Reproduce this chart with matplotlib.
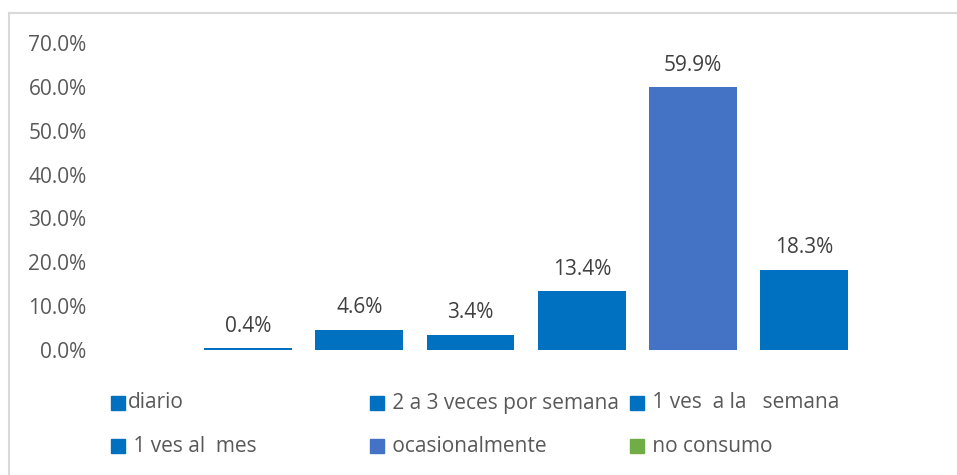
import matplotlib.pyplot as plt
import matplotlib.ticker as ticker
from matplotlib.patches import Rectangle
from matplotlib.lines import Line2D
import numpy as np

# Data
categories = ['', 'diario', '2 a 3 veces por semana', '1 ves  a la   semana',
              ' 1 ves al  mes', 'ocasionalmente', 'no consumo']
values = [np.nan, 0.4, 4.6, 3.4, 13.4, 59.9, 18.3]
bar_colors = ['#0070C0', '#0070C0', '#0070C0', '#0070C0', '#0070C0', '#4472C4', '#0070C0']
legend_labels = ['diario', ' 2 a 3 veces por semana', ' 1 ves  a la   semana',
                 ' 1 ves al  mes', ' ocasionalmente', ' no consumo']
legend_colors = ['#0070C0', '#0070C0', '#0070C0', '#0070C0', '#4472C4', '#70AD47']
yticks = [0, 10, 20, 30, 40, 50, 60, 70]

plt.rcParams['font.family'] = ['Open Sans', 'DejaVu Sans']

W, H = 957, 475
fig = plt.figure(figsize=(W / 100, H / 100), dpi=100, facecolor='white')

def fx(px):
    return px / W

def fy(py):
    return 1 - py / H

ax = fig.add_axes([fx(81), fy(350), fx(860) - fx(81), fy(43) - fy(350)])
x = np.arange(len(categories))
ax.bar(x, values, width=0.79, color=bar_colors, zorder=3)
ax.set_xlim(-0.5, len(categories) - 0.5)
ax.set_ylim(0, 70)
ax.set_yticks(yticks)
ax.yaxis.set_major_formatter(ticker.FuncFormatter(lambda v, p: f'{v:.1f}%'))
ax.set_xticks([])
ax.tick_params(axis='y', length=0, pad=-4, labelsize=15, labelcolor='#595959')
for s in ax.spines.values():
    s.set_visible(False)

for xi, v in zip(x, values):
    if np.isnan(v):
        continue
    ax.annotate(f'{v:.1f}%', xy=(xi, v), xytext=(0, 12), textcoords='offset points',
                ha='center', va='baseline', fontsize=15, color='#404040')

# chart border (left and top only visible)
fig.add_artist(Line2D([fx(9), fx(9)], [fy(13), 0], color='#D9D9D9', lw=1.5))
fig.add_artist(Line2D([fx(9), 1], [fy(13), fy(13)], color='#D9D9D9', lw=1.5))

# legend, 3 columns x 2 rows
col_x = [111, 370, 630]
row_y = [403, 446]
for i, (lab, col) in enumerate(zip(legend_labels, legend_colors)):
    mx = col_x[i % 3]
    my = row_y[i // 3]
    fig.add_artist(Rectangle((fx(mx), fy(my + 7)), fx(14), 14 / H,
                             transform=fig.transFigure, color=col))
    fig.text(fx(mx + 17), fy(my), lab, fontsize=15, color='#595959',
             ha='left', va='center')

fig.savefig('out.png', dpi=100, facecolor='white')
